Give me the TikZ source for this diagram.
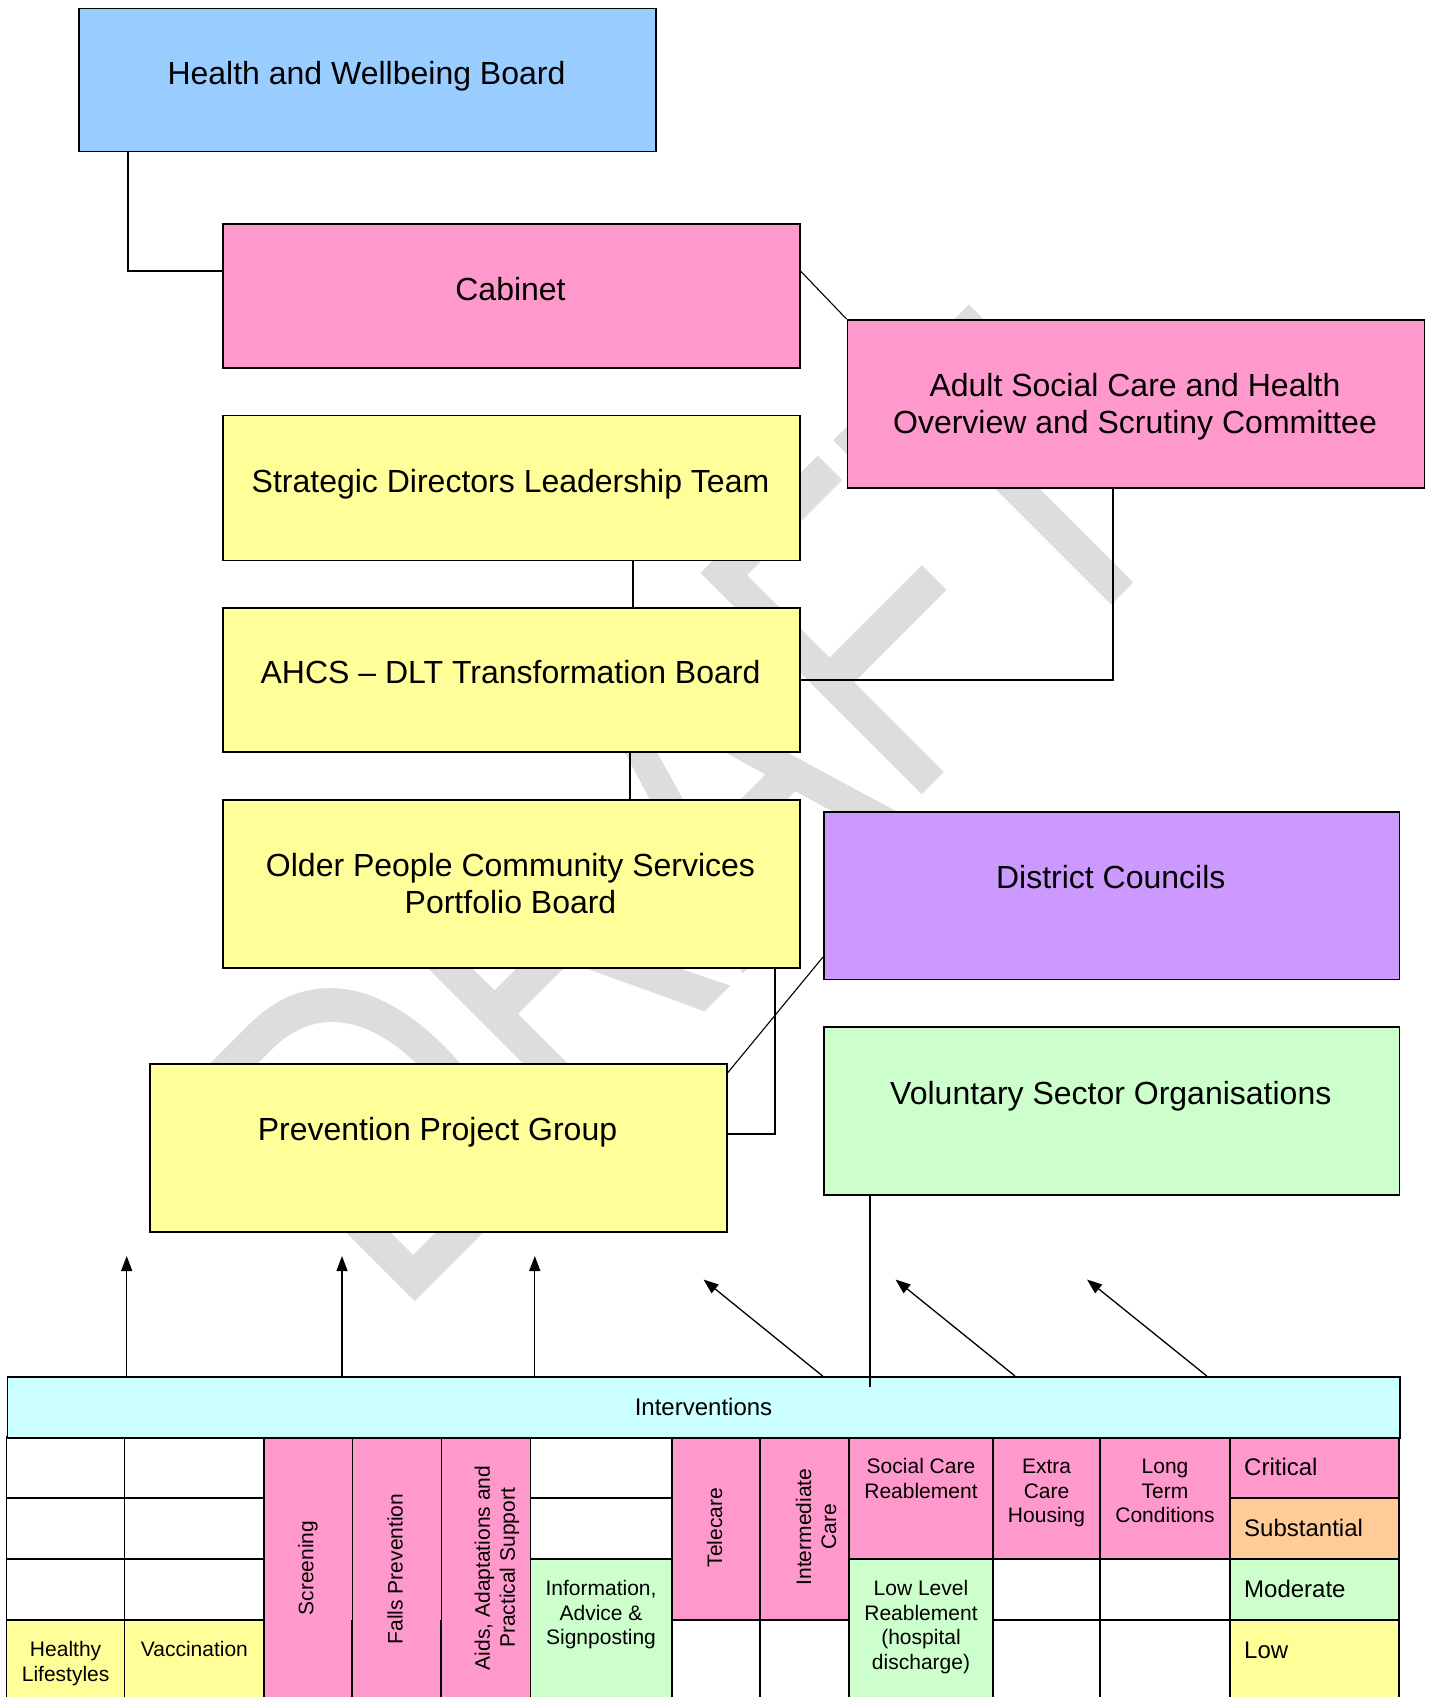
\documentclass[tikz,border=0pt]{standalone}
\usepackage{fontspec}
\setmainfont{Liberation Sans}
\usetikzlibrary{arrows.meta,calc}

\definecolor{boardblue}{HTML}{99CCFF}
\definecolor{memberpink}{HTML}{FF99CC}
\definecolor{officeryellow}{HTML}{FFFF99}
\definecolor{districtpurple}{HTML}{CC99FF}
\definecolor{voluntarygreen}{HTML}{CCFFCC}
\definecolor{barcyan}{HTML}{CCFFFF}
\definecolor{substorange}{HTML}{FFCC99}
\definecolor{markgray}{HTML}{DDDDDD}

\begin{document}
\begin{tikzpicture}[x=1pt,y=-1pt,
  orgbox/.style={draw, line width=1.5pt, anchor=north west, inner sep=0pt,
                 minimum width=577pt, minimum height=#1},
  % multi-line labels sit on the baseline of their last line
  boxlabel/.style={font=\fontsize{32}{36.8}\selectfont, align=center, anchor=base, inner sep=0pt},
  celltext/.style={font=\fontsize{21}{24.5}\selectfont, align=center, anchor=base, inner sep=0pt},
  sidetext/.style={font=\fontsize{21}{25}\selectfont, align=center, anchor=center, inner sep=0pt, rotate=90},
  leveltext/.style={font=\fontsize{24}{28}\selectfont, anchor=base west, inner sep=0pt},
  conn/.style={line width=1.1pt},
  grid/.style={line width=1.5pt},
  feed/.style={line width=1.3pt, -{Triangle[length=15pt,width=11pt]}}
]
\useasboundingbox (0,0) rectangle (1431,1697);
\clip (0,0) rectangle (1431,1697);

% watermark behind everything
\node[markgray, anchor=base west, rotate=45, inner sep=0pt] (draftmark) at (395,1322)
  {\scalebox{0.747}[1]{\fontsize{455}{455}\selectfont DRAFT}};

% ---------- governance boxes ----------
\node[orgbox=143pt, fill=boardblue] (hwb) at (78,7.6) {};
\node[orgbox=144pt, fill=memberpink] (cab) at (222,223) {};
\node[orgbox=168pt, fill=memberpink] (asc) at (846.5,319) {};
\node[orgbox=145pt, fill=officeryellow] (sdlt) at (222,414.6) {};
\node[orgbox=144pt, fill=officeryellow] (ahcs) at (222,607) {};
\node[orgbox=168pt, fill=officeryellow] (opcs) at (222,799) {};
\node[orgbox=167.6pt, fill=districtpurple, minimum width=575.6pt] (dc) at (823,811) {};
\node[orgbox=168pt, fill=voluntarygreen, minimum width=575.6pt] (vso) at (823,1026) {};
\node[orgbox=168pt, fill=officeryellow] (ppg) at (149,1063) {};

\node[boxlabel] (hwbt) at (366.5,84) {Health and Wellbeing Board};
\node[boxlabel] (cabt) at (510.5,300.5) {Cabinet};
\node[boxlabel] (asct) at (1135,433.3) {Adult Social Care and Health\\Overview and Scrutiny Committee};
\node[boxlabel] (sdltt) at (510.5,492) {Strategic Directors Leadership Team};
\node[boxlabel] (ahcst) at (510.5,683.5) {AHCS -- DLT Transformation Board};
\node[boxlabel] (opcst) at (510.5,913.3) {Older People Community Services\\Portfolio Board};
\node[boxlabel] (dct) at (1110.8,888.5) {District Councils};
\node[boxlabel] (vsot) at (1110.8,1104.5) {Voluntary Sector Organisations};
\node[boxlabel] (ppgt) at (437.5,1140.5) {Prevention Project Group};

% ---------- connectors ----------
\coordinate (k1) at (128,271);
\draw[conn] (k1 |- hwb.south) -- (k1) -- (k1 -| cab.west);
\draw[conn] (k1 -| cab.east) -- (asc.north west);
\coordinate (k2) at (633,583);
\draw[conn] (k2 |- sdlt.south) -- (k2 |- ahcs.north);
\coordinate (k3) at (1113,680);
\draw[conn] (k3 |- asc.south) -- (k3) -- (k3 -| ahcs.east);
\coordinate (k4) at (630,775);
\draw[conn] (k4 |- ahcs.south) -- (k4 |- opcs.north);
\coordinate (k5) at (775,1134);
\draw[conn] (k5 |- opcs.south) -- (k5) -- (k5 -| ppg.east);
\coordinate (k6) at (823,957);
\coordinate (k7) at (726,1073);
\draw[conn] (k6 -| dc.west) -- (k7 -| ppg.east);

% ---------- interventions table ----------
% columns 0 and 1
\foreach \xa/\xb in {6.5/124.7, 124.7/264} {
  \draw[grid, fill=white] (\xa,1437) rectangle (\xb,1498);
  \draw[grid, fill=white] (\xa,1498) rectangle (\xb,1559);
  \draw[grid, fill=white] (\xa,1559) rectangle (\xb,1620);
  \draw[grid, fill=officeryellow] (\xa,1620) rectangle (\xb,1700);
}
% columns 2-4 (full height)
\fill[memberpink] (264,1437) rectangle (530.4,1700);
\draw[line width=0.8pt] (352,1437) -- (352,1620);
\draw[line width=0.8pt] (441,1437) -- (441,1620);
\draw[grid] (352,1620) -- (352,1700);
\draw[grid] (441,1620) -- (441,1700);
\draw[grid] (264,1437) rectangle (530.4,1700);
% column 5
\draw[grid, fill=white] (530.4,1437) rectangle (672,1498);
\draw[grid, fill=white] (530.4,1498) rectangle (672,1559);
\draw[grid, fill=voluntarygreen] (530.4,1559) rectangle (672,1700);
% columns 6-7
\foreach \xa/\xb in {672/760, 760/849} {
  \draw[grid, fill=memberpink] (\xa,1437) rectangle (\xb,1620);
  \draw[grid, fill=white] (\xa,1620) rectangle (\xb,1700);
}
% column 8
\draw[grid, fill=memberpink] (849,1437) rectangle (993,1559);
\draw[grid, fill=voluntarygreen] (849,1559) rectangle (993,1700);
% columns 9-10
\foreach \xa/\xb in {993/1100, 1100/1230} {
  \draw[grid, fill=memberpink] (\xa,1437) rectangle (\xb,1559);
  \draw[grid, fill=white] (\xa,1559) rectangle (\xb,1620);
  \draw[grid, fill=white] (\xa,1620) rectangle (\xb,1700);
}
% column 11: eligibility levels
\draw[grid, fill=memberpink] (1230,1437) rectangle (1399,1498);
\draw[grid, fill=substorange] (1230,1498) rectangle (1399,1559);
\draw[grid, fill=voluntarygreen] (1230,1559) rectangle (1399,1620);
\draw[grid, fill=officeryellow] (1230,1620) rectangle (1399,1700);

% header bar
\node[draw, grid, fill=barcyan, anchor=north west, inner sep=0pt,
      minimum width=1392.5pt, minimum height=61pt,
      font=\fontsize{24}{28}\selectfont] (bar) at (6.5,1376) {Interventions};

% cell texts
\node[celltext] (hl) at (65.6,1681) {Healthy\\Lifestyles};
\node[celltext] (vac) at (194.4,1656.5) {Vaccination};
\node[sidetext] (scrn) at (308,1568) {Screening};
\node[sidetext] (falls) at (395,1569) {Falls Prevention};
\node[sidetext] (aids) at (497,1568) {Aids, Adaptations and\\Practical Support};
\node[celltext] (info) at (601,1644.5) {Information,\\Advice \&\\Signposting};
\node[sidetext] (tele) at (714.5,1527.5) {Telecare};
\node[sidetext] (inter) at (816,1527) {Intermediate\\Care};
\node[celltext] (screab) at (921,1498) {Social Care\\Reablement};
\node[celltext] (llreab) at (921,1669) {Low Level\\Reablement\\(hospital\\discharge)};
\node[celltext] (ech) at (1046.5,1522.5) {Extra\\Care\\Housing};
\node[celltext] (ltc) at (1165,1522.5) {Long\\Term\\Conditions};
\node[leveltext] (crit) at (1244,1475.6) {Critical};
\node[leveltext] (subst) at (1244,1536.6) {Substantial};
\node[leveltext] (mod) at (1244,1597.6) {Moderate};
\node[leveltext] (low) at (1244,1658.6) {Low};

% ---------- feeds from interventions ----------
\coordinate (a1) at (126.7,1256);
\coordinate (a2) at (342,1256);
\coordinate (a3) at (534.8,1256);
\draw[feed] (a1 |- bar.north) -- (a1);
\draw[feed] (a2 |- bar.north) -- (a2);
\draw[feed] (a3 |- bar.north) -- (a3);
\coordinate (b1s) at (822.6,1376);  \coordinate (b1) at (703.5,1279.5);
\coordinate (b2s) at (1015,1376);   \coordinate (b2) at (895.5,1279.5);
\coordinate (b3s) at (1206.8,1376); \coordinate (b3) at (1087,1279.5);
\draw[feed] (b1s) -- (b1);
\draw[feed] (b2s) -- (b2);
\draw[feed] (b3s) -- (b3);
\coordinate (k8) at (870,1387);
\draw[conn] (k8 |- vso.south) -- (k8);
\end{tikzpicture}
\end{document}
